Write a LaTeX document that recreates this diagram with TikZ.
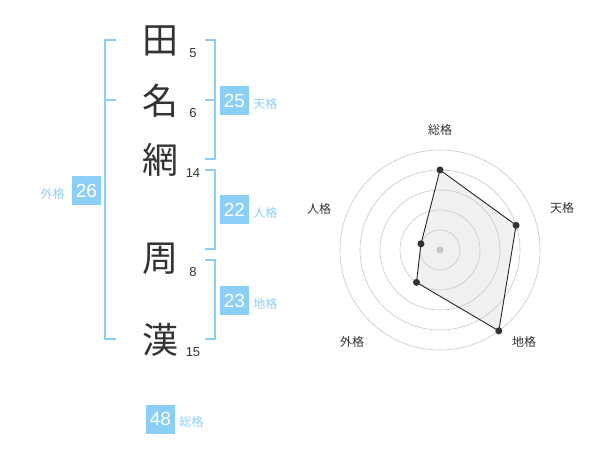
\documentclass[tikz,border=0pt]{standalone}
\usepackage{fontspec}
\setmainfont{Liberation Sans}
\newfontfamily\jp{Noto Sans CJK JP}
\usepackage{tikz}

\definecolor{kakublue}{HTML}{8CCFF6}
\definecolor{inkgray}{HTML}{333333}

\begin{document}
\begin{tikzpicture}[x=1pt,y=-1pt,
  kanji/.style={font=\jp\fontsize{36}{36}\selectfont, text=inkgray, inner sep=0pt},
  strokes/.style={font=\fontsize{13}{13}\selectfont, text=inkgray, inner sep=0pt},
  kakubox/.style={fill=kakublue, text=white, minimum size=29pt, inner sep=0pt, font=\fontsize{19}{19}\selectfont},
  kakuname/.style={text=kakublue, inner sep=0pt, font=\jp\fontsize{12}{12}\selectfont},
  bracket/.style={kakublue, line width=2pt},
  axisname/.style={text=inkgray, inner sep=0pt, font=\jp\fontsize{12}{12}\selectfont}]
\useasboundingbox (0,0) rectangle (600,470);

% name
\node[kanji] (c1) at (160,41) {田};
\node[kanji] (c2) at (160,101) {名};
\node[kanji] (c3) at (160,160) {網};
\node[kanji] (c4) at (160,259) {周};
\node[kanji] (c5) at (160,340) {漢};
\node[strokes] (n1) at (193,53) {5};
\node[strokes] (n2) at (193,113) {6};
\node[strokes] (n3) at (193,173) {14};
\node[strokes] (n4) at (193,272) {8};
\node[strokes] (n5) at (193,352) {15};

% brackets
\draw[bracket] (116,40) -- (105,40) -- (105,339) -- (116,339);
\draw[bracket] (105,100) -- (116,100);
\draw[bracket] (205,40) -- (215,40) -- (215,159) -- (205,159);
\draw[bracket] (205,100) -- (215,100);
\draw[bracket] (205,170) -- (215,170) -- (215,249) -- (205,249);
\draw[bracket] (205,260) -- (215,260) -- (215,339) -- (205,339);

% scores
\node[kakubox] (ten) at (234.5,100.5) {25};
\node[kakuname, anchor=west] at ([xshift=4pt,yshift=-3pt]ten.east) {天格};
\node[kakubox] (jin) at (234.5,210) {22};
\node[kakuname, anchor=west] at ([xshift=4pt,yshift=-3pt]jin.east) {人格};
\node[kakubox] (chi) at (234.5,300.5) {23};
\node[kakuname, anchor=west] at ([xshift=4pt,yshift=-3pt]chi.east) {地格};
\node[kakubox] (gai) at (86.5,190.5) {26};
\node[kakuname, anchor=east] at ([xshift=-7pt,yshift=-3pt]gai.west) {外格};
\node[kakubox] (sou) at (160.5,419) {48};
\node[kakuname, anchor=west] at ([xshift=4pt,yshift=-3pt]sou.east) {総格};

% radar
\begin{scope}[shift={(440,250)},yscale=-1]
\coordinate (p1) at (90:80);
\coordinate (p2) at (18:80);
\coordinate (p3) at (-54:100);
\coordinate (p4) at (234:40);
\coordinate (p5) at (162:20);
\fill[black!6] (p1) -- (p2) -- (p3) -- (p4) -- (p5) -- cycle;
\foreach \r in {20,40,...,100}
\draw[black!22, line width=0.6pt] (0,0) circle (\r);
\fill[black!22] (0,0) circle (3.5);
\draw[black!85, line width=0.9pt] (p1) -- (p2) -- (p3) -- (p4) -- (p5) -- cycle;
\foreach \i in {1,...,5}
\fill[inkgray] (p\i) circle (3.5);
\end{scope}
\node[axisname] (a1) at (440,130) {総格};
\node[axisname] (a2) at (562,208) {天格};
\node[axisname] (a3) at (524,342) {地格};
\node[axisname] (a4) at (352,342) {外格};
\node[axisname] (a5) at (319,209) {人格};
\end{tikzpicture}
\end{document}
